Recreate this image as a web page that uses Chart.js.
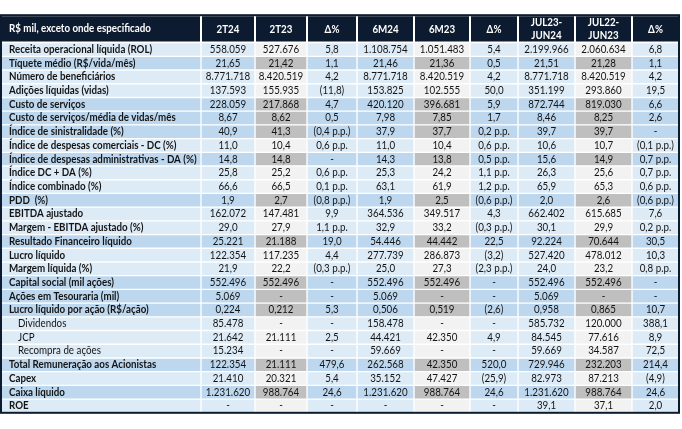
<!DOCTYPE html>
<html>
<head>
<meta charset="utf-8">
<script src="https://cdn.jsdelivr.net/npm/chart.js@4.4.1/dist/chart.umd.min.js"></script>
<style>
  html, body { margin: 0; padding: 0; background: #ffffff; }
  #wrap { width: 682px; height: 429px; }
</style>
</head>
<body>
<div id="wrap"><canvas id="tablediv"></canvas></div>
<script>
// table content
var headerTitle = "R$ mil, exceto onde especificado";
var columnNames = ["2T24", "2T23", "Δ%", "6M24", "6M23", "Δ%", "JUL23-\nJUN24", "JUL22-\nJUN23", "Δ%"];

var rowLabels = [
  "Receita operacional líquida (ROL)",
  "Tíquete médio (R$/vida/mês)",
  "Número de beneficiários",
  "Adições líquidas (vidas)",
  "Custo de serviços",
  "Custo de serviços/média de vidas/mês",
  "Índice de sinistralidade (%)",
  "Índice de despesas comerciais - DC (%)",
  "Índice de despesas administrativas - DA (%)",
  "Índice DC + DA (%)",
  "Índice combinado (%)",
  "PDD  (%)",
  "EBITDA ajustado",
  "Margem - EBITDA ajustado (%)",
  "Resultado Financeiro líquido",
  "Lucro líquido",
  "Margem líquida (%)",
  "Capital social (mil ações)",
  "Ações em Tesouraria (mil)",
  "Lucro líquido por ação (R$/ação)",
  "Dividendos",
  "JCP",
  "Recompra de ações",
  "Total Remuneração aos Acionistas",
  "Capex",
  "Caixa líquido",
  "ROE"
];

var val2T24 = ["558.059", "21,65", "8.771.718", "137.593", "228.059", "8,67", "40,9", "11,0", "14,8", "25,8", "66,6", "1,9",
  "162.072", "29,0", "25.221", "122.354", "21,9", "552.496", "5.069", "0,224", "85.478", "21.642", "15.234", "122.354", "21.410", "1.231.620", "-"];
var val2T23 = ["527.676", "21,42", "8.420.519", "155.935", "217.868", "8,62", "41,3", "10,4", "14,8", "25,2", "66,5", "2,7",
  "147.481", "27,9", "21.188", "117.235", "22,2", "552.496", "-", "0,212", "-", "21.111", "-", "21.111", "20.321", "988.764", "-"];
var delta2T = ["5,8", "1,1", "4,2", "(11,8)", "4,7", "0,5", "(0,4 p.p.)", "0,6 p.p.", "-", "0,6 p.p.", "0,1 p.p.", "(0,8 p.p.)",
  "9,9", "1,1 p.p.", "19,0", "4,4", "(0,3 p.p.)", "-", "-", "5,3", "-", "2,5", "-", "479,6", "5,4", "24,6", "-"];
var val6M24 = ["1.108.754", "21,46", "8.771.718", "153.825", "420.120", "7,98", "37,9", "11,0", "14,3", "25,3", "63,1", "1,9",
  "364.536", "32,9", "54.446", "277.739", "25,0", "552.496", "5.069", "0,506", "158.478", "44.421", "59.669", "262.568", "35.152", "1.231.620", "-"];
var val6M23 = ["1.051.483", "21,36", "8.420.519", "102.555", "396.681", "7,85", "37,7", "10,4", "13,8", "24,2", "61,9", "2,5",
  "349.517", "33,2", "44.442", "286.873", "27,3", "552.496", "-", "0,519", "-", "42.350", "-", "42.350", "47.427", "988.764", "-"];
var delta6M = ["5,4", "0,5", "4,2", "50,0", "5,9", "1,7", "0,2 p.p.", "0,6 p.p.", "0,5 p.p.", "1,1 p.p.", "1,2 p.p.", "(0,6 p.p.)",
  "4,3", "(0,3 p.p.)", "22,5", "(3,2)", "(2,3 p.p.)", "-", "-", "(2,6)", "-", "4,9", "-", "520,0", "(25,9)", "24,6", "-"];
var valJul24 = ["2.199.966", "21,51", "8.771.718", "351.199", "872.744", "8,46", "39,7", "10,6", "15,6", "26,3", "65,9", "2,0",
  "662.402", "30,1", "92.224", "527.420", "24,0", "552.496", "5.069", "0,958", "585.732", "84.545", "59.669", "729.946", "82.973", "1.231.620", "39,1"];
var valJul23 = ["2.060.634", "21,28", "8.420.519", "293.860", "819.030", "8,25", "39,7", "10,7", "14,9", "25,6", "65,3", "2,6",
  "615.685", "29,9", "70.644", "478.012", "23,2", "552.496", "-", "0,865", "120.000", "77.616", "34.587", "232.203", "87.213", "988.764", "37,1"];
var deltaJul = ["6,8", "1,1", "4,2", "19,5", "6,6", "2,6", "-", "(0,1 p.p.)", "0,7 p.p.", "0,7 p.p.", "0,6 p.p.", "(0,6 p.p.)",
  "7,6", "0,2 p.p.", "30,5", "10,3", "0,8 p.p.", "-", "-", "10,7", "388,1", "8,9", "72,5", "214,4", "(4,9)", "24,6", "2,0"];

var columnValues = [val2T24, val2T23, delta2T, val6M24, val6M23, delta6M, valJul24, valJul23, deltaJul];

// styling / layout
var highlightRows = [1, 4, 5, 6, 8, 11, 14, 17, 18, 19, 23, 25];
var indentRows = [20, 21, 22];
var priorCols = [2, 5, 8];          // 2T23, 6M23, JUL22 (0 = label column)
var colWidths = [200, 54, 52, 50, 57, 56, 48, 57, 57, 47];
var headRows = 2;

var navy = "#0c1b2f";
var textColor = "#141414";
var fontFamily = "Lato, 'Open Sans', sans-serif";
var squeeze = 0.93;

var edges = [0];
colWidths.forEach(function (w) { edges.push(edges[edges.length - 1] + w); });

function cellColor(r, c) {
  var strong = highlightRows.indexOf(r) >= 0;
  if (priorCols.indexOf(c) >= 0) return strong ? "#bfbfbf" : "#f2f2f2";
  return strong ? "#bdd7ee" : "#ddebf7";
}

var datasets = [];
// header band
datasets.push({
  data: colWidths.map(function (w, c) { return { x: [edges[c], edges[c + 1]], y: headRows / 2 }; }),
  backgroundColor: navy,
  barPercentage: headRows,
  categoryPercentage: 1,
  grouped: false,
  borderWidth: 1,
  borderColor: "#ffffff",
  borderSkipped: false
});
// body cells, one dataset per column
colWidths.forEach(function (w, c) {
  datasets.push({
    data: rowLabels.map(function (lab, r) { return { x: [edges[c], edges[c + 1]], y: headRows + r + 0.5 }; }),
    backgroundColor: rowLabels.map(function (lab, r) { return cellColor(r, c); }),
    barPercentage: 1,
    categoryPercentage: 1,
    grouped: false,
    borderWidth: 1,
    borderColor: "#ffffff",
    borderSkipped: false
  });
});

function drawText(ctx, text, x, y, align, font, color) {
  ctx.save();
  ctx.font = font;
  ctx.fillStyle = color;
  ctx.textAlign = align;
  ctx.textBaseline = "middle";
  ctx.translate(x, y);
  ctx.scale(squeeze, 1);
  ctx.fillText(text, 0, 0);
  ctx.restore();
}

var tableText = {
  id: "tableText",
  afterDatasetsDraw: function (chart) {
    var ctx = chart.ctx;
    var xs = chart.scales.x, ys = chart.scales.y;
    var bold = "bold 10.5px " + fontFamily;
    var normal = "10.5px " + fontFamily;

    // header texts
    var hy = ys.getPixelForValue(headRows / 2);
    drawText(ctx, headerTitle, xs.getPixelForValue(edges[0]) + 8, hy, "left", bold, "#ffffff");
    columnNames.forEach(function (name, i) {
      var cx = xs.getPixelForValue((edges[i + 1] + edges[i + 2]) / 2);
      var lines = name.split("\n");
      if (lines.length === 1) {
        drawText(ctx, name, cx, hy + 1, "center", bold, "#ffffff");
      } else {
        drawText(ctx, lines[0], cx, hy - 6, "center", bold, "#ffffff");
        drawText(ctx, lines[1], cx, hy + 7, "center", bold, "#ffffff");
      }
    });

    // body texts
    rowLabels.forEach(function (lab, r) {
      var y = ys.getPixelForValue(headRows + r + 0.5);
      var indent = indentRows.indexOf(r) >= 0 ? 17 : 8;
      drawText(ctx, lab, xs.getPixelForValue(edges[0]) + indent, y,
        "left", indentRows.indexOf(r) >= 0 ? normal : bold, textColor);
      columnValues.forEach(function (vals, i) {
        var cx = xs.getPixelForValue((edges[i + 1] + edges[i + 2]) / 2);
        drawText(ctx, vals[r], cx, y, "center", normal, textColor);
      });
    });

    // outer frame
    var left = xs.getPixelForValue(edges[0]), right = xs.getPixelForValue(edges[edges.length - 1]);
    var top = ys.getPixelForValue(0), bottom = ys.getPixelForValue(headRows + rowLabels.length);
    ctx.save();
    ctx.strokeStyle = navy;
    ctx.lineWidth = 2;
    ctx.strokeRect(left, top, right - left, bottom - top);
    ctx.restore();
  }
};

var tableChart = new Chart(document.getElementById("tablediv"), {
  type: "bar",
  data: { labels: [], datasets: datasets },
  plugins: [tableText],
  options: {
    indexAxis: "y",
    responsive: true,
    maintainAspectRatio: false,
    animation: false,
    events: [],
    layout: { padding: { left: 1, right: 3, top: 1, bottom: 2 } },
    plugins: { legend: { display: false }, tooltip: { enabled: false } },
    scales: {
      x: { type: "linear", min: 0, max: edges[edges.length - 1], display: false },
      y: { type: "linear", min: 0, max: headRows + rowLabels.length, reverse: true, display: false, ticks: { stepSize: 1 } }
    }
  }
});
</script>
</body>
</html>
